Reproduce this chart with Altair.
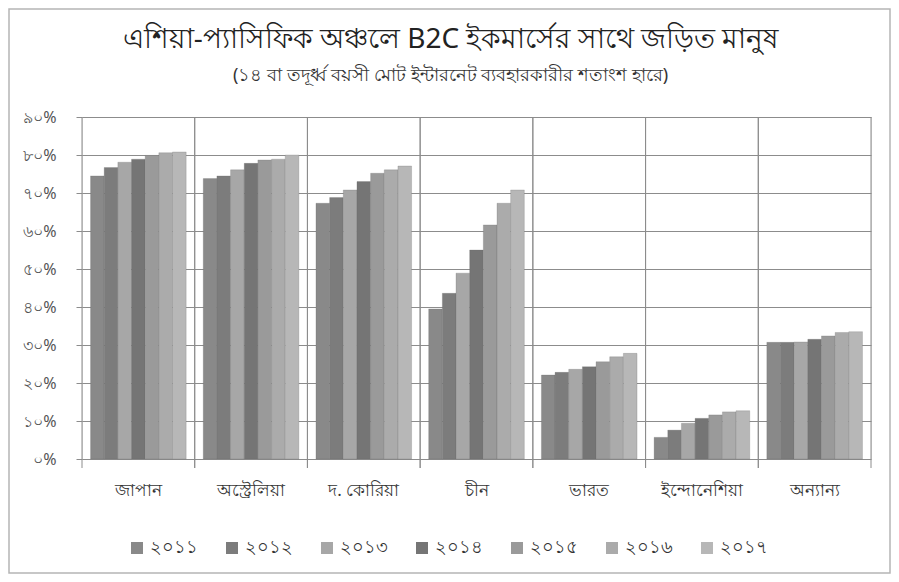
import altair as alt
import pandas as pd

CATEGORIES = ["জাপান", "অস্ট্রেলিয়া", "দ. কোরিয়া", "চীন", "ভারত", "ইন্দোনেশিয়া", "অন্যান্য"]
YEARS = ["২০১১", "২০১২", "২০১৩", "২০১৪", "২০১৫", "২০১৬", "২০১৭"]

JAPAN = [74.5, 76.7, 78.1, 78.9, 79.9, 80.6, 80.8]
AUSTRALIA = [73.8, 74.5, 76.1, 77.8, 78.7, 78.9, 80.0]
SOUTH_KOREA = [67.3, 68.8, 70.8, 73.0, 75.2, 76.1, 77.1]
CHINA = [39.5, 43.6, 48.9, 55.0, 61.6, 67.3, 70.8]
INDIA = [22.1, 22.8, 23.6, 24.3, 25.6, 26.9, 27.8]
INDONESIA = [5.7, 7.6, 9.4, 10.7, 11.6, 12.4, 12.7]
OTHERS = [30.7, 30.7, 30.8, 31.5, 32.4, 33.3, 33.5]

Y_TICKS = [0, 10, 20, 30, 40, 50, 60, 70, 80, 90]
Y_TICK_LABELS = ["০%", "১০%", "২০%", "৩০%", "৪০%", "৫০%", "৬০%", "৭০%", "৮০%", "৯০%"]

COLORS = ["#898989", "#7c7c7c", "#a7a7a7", "#757575", "#9a9a9a", "#ababab", "#b7b7b7"]

TITLE = "এশিয়া-প্যাসিফিক অঞ্চলে B2C ইকমার্সের সাথে জড়িত মানুষ"
SUBTITLE = "(১৪ বা তদূর্ধ্ব বয়সী মোট ইন্টারনেট ব্যবহারকারীর শতাংশ হারে)"

FONT = "Noto Sans"

series = [JAPAN, AUSTRALIA, SOUTH_KOREA, CHINA, INDIA, INDONESIA, OTHERS]
rows = []
for cat, vals in zip(CATEGORIES, series):
    for yr, v in zip(YEARS, vals):
        rows.append({"category": cat, "year": yr, "value": v})
df = pd.DataFrame(rows)
cats_df = pd.DataFrame({"category": CATEGORIES})
title_df = pd.DataFrame({"text": [TITLE]})
subtitle_df = pd.DataFrame({"text": [SUBTITLE]})

W, H = 789, 342

label_expr = "[" + ",".join("'" + s + "'" for s in Y_TICK_LABELS) + "][round(datum.value/10)]"

x_enc = alt.X(
    "category:N",
    sort=CATEGORIES,
    scale=alt.Scale(paddingInner=0, paddingOuter=0),
    axis=alt.Axis(title=None, ticks=False, domain=False, grid=False, labelAngle=0,
                  labelPadding=23, labelFontSize=17, labelColor="#333333", labelFont=FONT),
)

bars = alt.Chart(df).mark_bar(stroke="#666666", strokeWidth=0.4, strokeOpacity=0.6).encode(
    x=x_enc,
    xOffset=alt.XOffset("year:N", sort=YEARS,
                        scale=alt.Scale(paddingInner=0, paddingOuter=0.625)),
    y=alt.Y("value:Q",
            scale=alt.Scale(domain=[0, 90], nice=False),
            axis=alt.Axis(title=None, values=Y_TICKS, labelExpr=label_expr, grid=True,
                          gridColor="#8c8c8c", gridWidth=1, domain=False, tickSize=6,
                          tickColor="#8c8c8c", labelPadding=20, labelFontSize=16,
                          labelColor="#555555", labelFont=FONT)),
    color=alt.Color("year:N", sort=YEARS,
                    scale=alt.Scale(domain=YEARS, range=COLORS),
                    legend=alt.Legend(title=None, orient="none", legendX=46, legendY=422,
                                      direction="horizontal", columns=7, symbolType="square",
                                      symbolSize=144, symbolStrokeWidth=0, labelFontSize=18,
                                      labelColor="#333333", labelFont=FONT, columnPadding=25)),
)

rules_left = alt.Chart(cats_df).mark_rule(color="#8c8c8c", strokeWidth=1).encode(
    x=alt.X("category:N", sort=CATEGORIES, bandPosition=0),
    y=alt.value(0),
    y2=alt.value(H + 9),
)
rules_right = alt.Chart(cats_df).mark_rule(color="#8c8c8c", strokeWidth=1).encode(
    x=alt.X("category:N", sort=CATEGORIES, bandPosition=1),
    y=alt.value(0),
    y2=alt.value(H + 9),
)

title_text = alt.Chart(title_df).mark_text(
    font=FONT, fontSize=28, color="#222222", align="center", baseline="middle"
).encode(text="text:N", x=alt.value(W / 2 - 26), y=alt.value(-77))

subtitle_text = alt.Chart(subtitle_df).mark_text(
    font=FONT, fontSize=18, color="#333333", align="center", baseline="middle"
).encode(text="text:N", x=alt.value(W / 2 - 26), y=alt.value(-41))

frame = alt.Chart(cats_df.head(1)).mark_rect(filled=False, stroke="#b5b5b5", strokeWidth=1.5, clip=False).encode(
    x=alt.value(-73), x2=alt.value(W + 19), y=alt.value(-108), y2=alt.value(H + 114),
)

chart = alt.layer(bars, rules_left, rules_right, title_text, subtitle_text, frame).properties(
    width=W,
    height=H,
    autosize=alt.AutoSizeParams(type="none"),
    padding={"left": 74, "top": 109, "right": 20, "bottom": 115},
).configure_view(
    fill="#efefef", stroke="#8c8c8c", strokeWidth=1
).configure(background="white")

chart.save("out.html", embed_options={"renderer": "svg", "actions": False})
